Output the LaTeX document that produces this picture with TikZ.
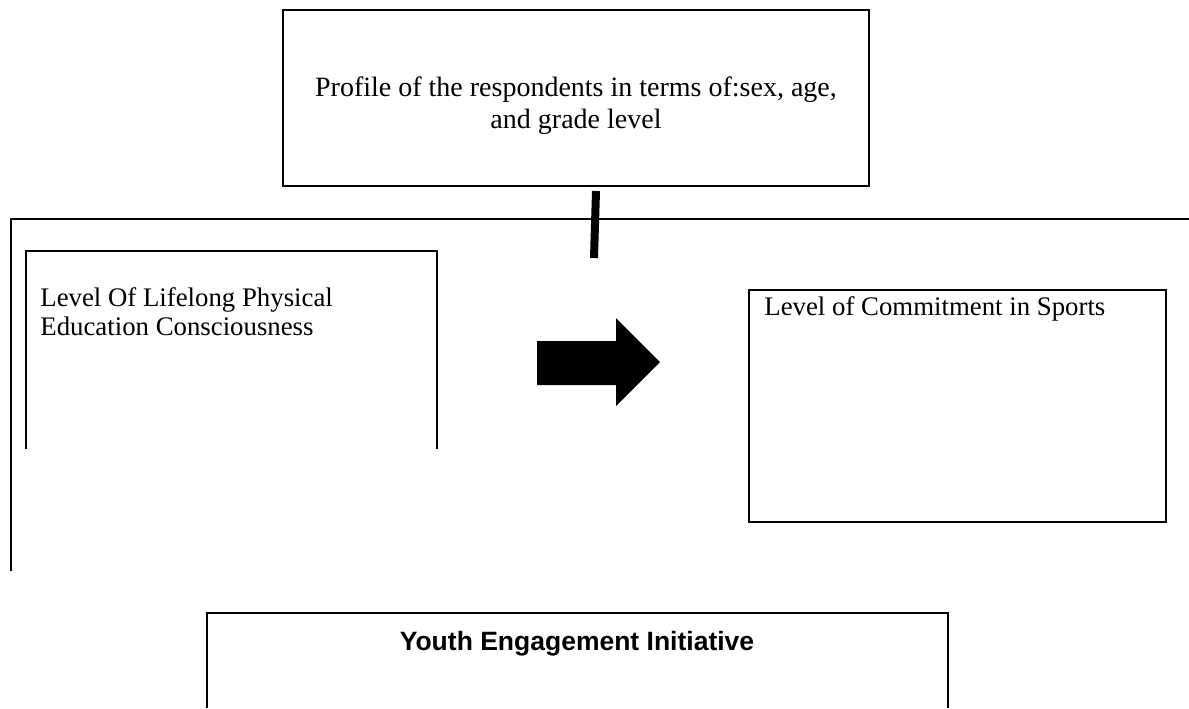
\documentclass[tikz,border=0pt]{standalone}
\usepackage{fontspec}
\setmainfont{Liberation Serif}
\newfontfamily\headfont{Liberation Sans}
\usetikzlibrary{positioning}
\tikzset{boxline/.style={line width=1pt},
         boxtext/.style={inner sep=0pt, anchor=base west, font=\fontsize{13.4}{16}\selectfont},
         midtext/.style={inner sep=0pt, anchor=base, font=\fontsize{14}{16}\selectfont}}

\begin{document}
\begin{tikzpicture}[x=0.5pt,y=-0.5pt]

        \useasboundingbox (0,0) rectangle (1189,708);

        % profile box
        \draw [boxline] (283,10) rectangle (869,186);

        \node [midtext] (profileA) at (576,96) {Profile of the respondents in terms of:sex, age,};

        \node [midtext] (profileB) at (576,128) {and grade level};

        \coordinate (bartop) at (596,191);
        \coordinate (barend) at (594,258);
        \draw [line width=4pt] (bartop) -- (barend);

        % frame
        \coordinate (frameA) at (11,571);
        \coordinate (frameB) at (11,219);
        \coordinate (frameC) at (1189,219);
        \draw [boxline] (frameA) -- (frameB) -- (frameC);

        % left box (open at the bottom)
        \draw [boxline] (26,449) -- (26,251) -- (437,251) -- (437,449);

        \node [boxtext] (lifelongA) at (40,306) {Level Of Lifelong Physical};

        \node [boxtext] (lifelongB) at (40,335) {Education Consciousness};

        % block arrow
        \fill (537,341) -- (616,341) -- (616,318) -- (660,362) -- (616,406) -- (616,385) -- (537,385) -- cycle;

        % right box
        \draw [boxline] (749,290) rectangle (1166,522);

        \node [boxtext] (commit) at (764,315) {Level of Commitment in Sports};

        % bottom box
        \draw [boxline] (207,708) -- (207,613) -- (948,613) -- (948,708);

        \node [inner sep=0pt, anchor=base, font=\headfont\bfseries\fontsize{13.25}{16}\selectfont] (youth) at (577,650) {Youth Engagement Initiative};

\end{tikzpicture}
\end{document}
